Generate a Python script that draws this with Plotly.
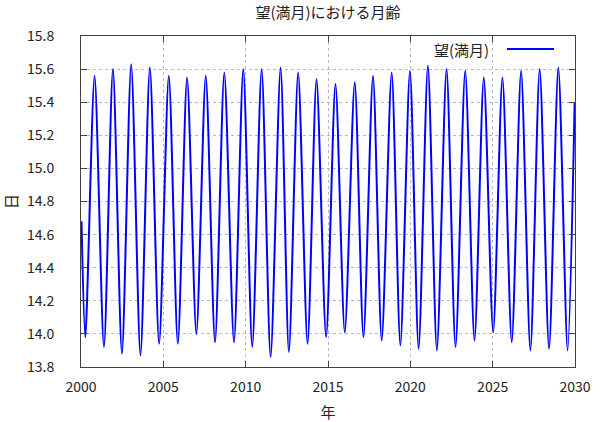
import plotly.graph_objects as go

# Extremes (and end points) of the full-moon age series
years = [2000.03, 2000.261, 2000.824, 2001.394, 2001.939, 2002.485, 2003.048, 2003.612,
         2004.182, 2004.745, 2005.333, 2005.879, 2006.442, 2007.006, 2007.576, 2008.139,
         2008.703, 2009.291, 2009.855, 2010.400, 2010.970, 2011.515, 2012.121, 2012.624,
         2013.188, 2013.758, 2014.303, 2014.885, 2015.455, 2016.018, 2016.624, 2017.152,
         2017.733, 2018.261, 2018.867, 2019.394, 2019.976, 2020.503, 2021.067, 2021.612,
         2022.200, 2022.745, 2023.333, 2023.897, 2024.461, 2025.030, 2025.594, 2026.158,
         2026.727, 2027.291, 2027.855, 2028.424, 2028.988, 2029.552, 2029.98]
ages = [14.68, 13.98, 15.56, 13.92, 15.60, 13.88, 15.63, 13.87,
        15.61, 13.94, 15.56, 13.94, 15.55, 14.00, 15.56, 13.95,
        15.58, 13.95, 15.60, 13.92, 15.60, 13.86, 15.61, 13.89,
        15.58, 13.94, 15.54, 13.98, 15.51, 14.01, 15.52, 13.98,
        15.56, 13.96, 15.58, 13.93, 15.59, 13.91, 15.62, 13.90,
        15.60, 13.92, 15.59, 13.96, 15.55, 14.01, 15.55, 13.95,
        15.59, 13.90, 15.60, 13.91, 15.61, 13.90, 15.40]

x_ticks = [2000, 2005, 2010, 2015, 2020, 2025, 2030]
y_ticks = [13.8, 14.0, 14.2, 14.4, 14.6, 14.8, 15.0, 15.2, 15.4, 15.6, 15.8]

title_text = "望(満月)における月齢"
series_name = "望(満月)"
x_title = "年"
y_title = "日"

FONT = "Noto Sans CJK JP"
fig = go.Figure()
fig.add_trace(go.Scatter(
    x=years, y=ages, mode="lines", name=series_name,
    line=dict(color="#0000ff", width=2, shape="spline", smoothing=0.75),
    showlegend=False,
))

axis_common = dict(
    showline=True, linecolor="#404040", linewidth=1, mirror="allticks",
    ticks="inside", ticklen=6, tickcolor="#404040",
    showgrid=True, gridcolor="#b8b8b8", griddash="dot", gridwidth=1,
    zeroline=False,
    tickfont=dict(family=FONT, size=14, color="#222222"),
)

fig.update_xaxes(
    range=[2000, 2030], tickvals=x_ticks, ticktext=[str(v) for v in x_ticks],
    title=dict(text=x_title, font=dict(family=FONT, size=15, color="#222222"), standoff=12),
    ticklabelstandoff=7,
    **axis_common,
)
fig.update_yaxes(
    range=[13.8, 15.8], tickvals=y_ticks, ticktext=[f"{v:.1f}" for v in y_ticks],
    title=dict(text=y_title, font=dict(family=FONT, size=15, color="#222222"), standoff=22),
    ticklabelstandoff=23,
    **axis_common,
)

# gnuplot-style key: text then line sample
fig.add_annotation(
    x=491, y=49, xref="paper", yref="paper", text=series_name, showarrow=False,
    xanchor="right", yanchor="middle",
    font=dict(family=FONT, size=15, color="#222222"),
)
fig.add_shape(type="line", x0=507, x1=554, y0=49, y1=49, xref="paper", yref="paper",
              line=dict(color="#0000ff", width=2))

fig.update_layout(
    width=600, height=422,
    margin=dict(l=81, r=25, t=36, b=55, autoexpand=False),
    paper_bgcolor="white", plot_bgcolor="white",
    title=dict(text=title_text, x=0.5, xref="paper", y=0.97, yanchor="middle",
               font=dict(family=FONT, size=15, color="#222222")),
    showlegend=False,
)

# Convert legend positions from pixels to paper coords
pw, ph = 600 - 81 - 25, 422 - 36 - 55
for a in fig.layout.annotations:
    a.x = (a.x - 81) / pw
    a.y = 1 - (a.y - 36) / ph
for s in fig.layout.shapes:
    s.x0 = (s.x0 - 81) / pw
    s.x1 = (s.x1 - 81) / pw
    s.y0 = 1 - (s.y0 - 36) / ph
    s.y1 = 1 - (s.y1 - 36) / ph

fig.write_html("out.html", config={"displayModeBar": False},
               post_script="document.body.style.margin='0';document.body.style.overflow='hidden';")
